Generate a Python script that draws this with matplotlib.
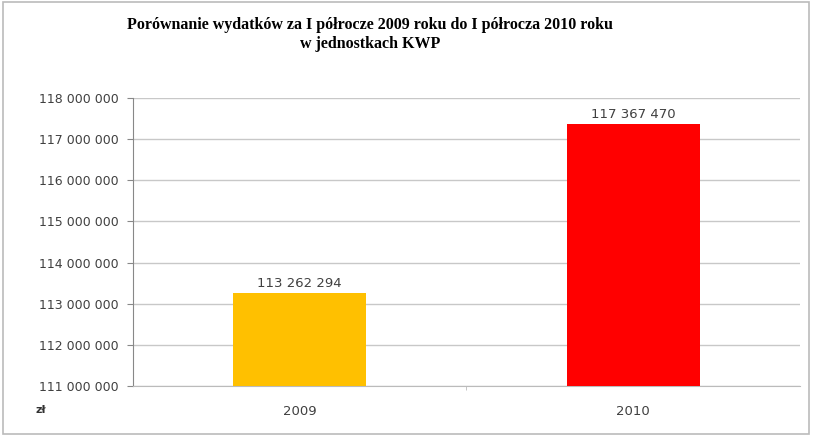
import matplotlib
matplotlib.use("Agg")
import matplotlib.pyplot as plt
from matplotlib.patches import Rectangle

categories = ["2009", "2010"]
values = [113262294, 117367470]
colors = ["#FFC000", "#FF0000"]
yticks = [111000000, 112000000, 113000000, 114000000, 115000000, 116000000, 117000000, 118000000]

def fmt(v):
    return f"{v:,}".replace(",", " ")

fig = plt.figure(figsize=(8.14, 4.36), dpi=100)
ax = fig.add_axes([0.163, 0.115, 0.82, 0.66])
x = range(len(categories))
ax.bar(x, values, width=0.4, color=colors, zorder=3)
ax.set_xlim(-0.5, 1.5)
ax.set_ylim(111000000, 118000000)
ax.set_yticks(yticks)
ax.set_yticklabels([fmt(v) for v in yticks], fontsize=9, color="#404040", family="DejaVu Sans")
ax.set_xticks(list(x))
ax.set_xticklabels(categories, fontsize=9.5, color="#404040", family="DejaVu Sans")
ax.set_xticks([0.5], minor=True)
ax.tick_params(axis="x", which="major", length=0, pad=14)
ax.tick_params(axis="x", which="minor", length=3, color="#BBBBBB")
ax.tick_params(axis="y", length=4, color="#888888", pad=6, direction="out")
ax.grid(axis="y", color="#C8C8C8", linewidth=1, zorder=0)
for s in ["top", "right"]:
    ax.spines[s].set_visible(False)
ax.spines["left"].set_color("#888888")
ax.spines["bottom"].set_color("#BBBBBB")
for xi, v in zip(x, values):
    ax.text(xi, v + 80000, fmt(v), ha="center", va="bottom", fontsize=9.5, color="#404040", family="DejaVu Sans")

fig.text(0.455, 0.96, "Porównanie wydatków za I półrocze 2009 roku do I półrocza 2010 roku\nw jednostkach KWP",
         ha="center", va="top", fontsize=11.5, fontweight="bold", family="Liberation Serif", linespacing=1.2)
fig.text(0.043, 0.06, "zł", fontsize=8, fontweight="bold", color="#333333", ha="left", va="center")
fig.patches.append(Rectangle((0.004, 0.005), 0.99, 0.99, transform=fig.transFigure, fill=False,
                             edgecolor="#BBBBBB", linewidth=1.2))
fig.savefig("out.png", dpi=100)
